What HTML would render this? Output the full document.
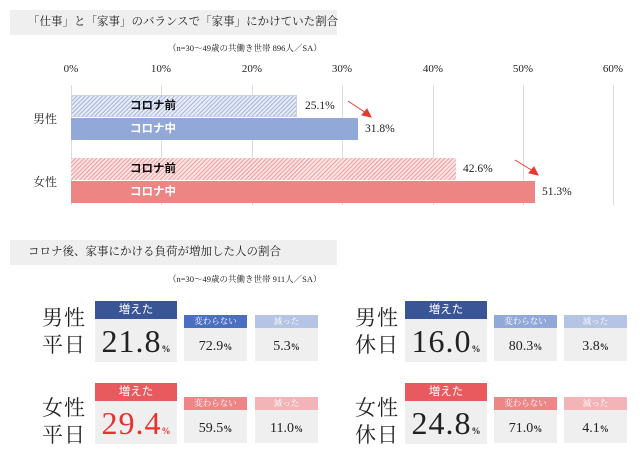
<!DOCTYPE html>
<html><head><meta charset="utf-8"><style>
body{margin:0;background:#fff;width:640px;height:460px;overflow:hidden;position:relative;font-family:"Liberation Serif","Noto Serif CJK SC",serif;color:#222}
.a{position:absolute}
.tb{position:absolute;left:10px;width:327px;height:25px;background:#efefef;font-size:11.5px;line-height:25px;padding-left:18px;box-sizing:border-box;white-space:nowrap;font-family:"Liberation Serif","Noto Serif CJK SC",serif}
.sub{position:absolute;font-size:8.5px;left:168px;white-space:nowrap}
.ax{position:absolute;top:63px;font-size:11px;width:40px;text-align:center}
.g{position:absolute;top:85px;height:120px;width:1px;background:#dcdcdc}
.bar{position:absolute;left:71px;height:22px}
.bl{position:absolute;left:130px;font-size:11.5px;font-weight:bold;font-family:"Liberation Sans","Noto Sans CJK JP",sans-serif;line-height:22px}
.v{position:absolute;font-size:11.5px;line-height:22px}
.cat{position:absolute;left:33px;font-size:12px}
.big{position:absolute;width:82px}
.big .h{height:18px;color:#fff;text-align:center;font-size:11.5px;line-height:18px;font-family:"Liberation Sans","Noto Sans CJK JP",sans-serif}
.big .b{height:43px;background:#efefef;text-align:center;font-size:32px;line-height:44px;font-family:"Liberation Serif","Noto Serif CJK SC",serif;letter-spacing:1px}
.sm{position:absolute;width:63px}
.sm .h{height:13px;color:#fff;text-align:center;font-size:8.5px;line-height:13px}
.sm .b{height:33px;background:#efefef;text-align:center;font-size:14px;line-height:38px}
small{font-size:9px;letter-spacing:0;font-weight:bold}
.lab{position:absolute;font-size:21px;line-height:27px;font-family:"Liberation Serif","Noto Serif CJK SC",serif;letter-spacing:1px}
</style></head><body>
<div class="tb" style="top:10px">「仕事」と「家事」のバランスで「家事」にかけていた割合</div>
<div class="sub" style="top:42px">（n=30～49歳の共働き世帯 896人／SA）</div>
<div class="ax" style="left:51px">0%</div><div class="ax" style="left:141px">10%</div><div class="ax" style="left:232px">20%</div><div class="ax" style="left:322px">30%</div><div class="ax" style="left:413px">40%</div><div class="ax" style="left:503px">50%</div><div class="ax" style="left:593px">60%</div>
<div class="g" style="left:71px"></div><div class="g" style="left:161px"></div><div class="g" style="left:252px"></div><div class="g" style="left:342px"></div><div class="g" style="left:433px"></div><div class="g" style="left:523px"></div><div class="g" style="left:613px"></div>
<div class="bar" style="top:95px;width:226px;background:repeating-linear-gradient(135deg,#a9b9dc 0 1px,#e6ebf6 1px 3px);border:1px solid #c8d2ea;box-sizing:border-box"></div>
<div class="bar" style="top:118px;width:287px;background:#91a8d8"></div>
<div class="bar" style="top:158px;width:385px;background:repeating-linear-gradient(135deg,#f0a0a2 0 1px,#fbe3e3 1px 3px)"></div>
<div class="bar" style="top:181px;width:464px;background:#ee8585"></div>
<div class="bl" style="top:95px;color:#111">コロナ前</div>
<div class="bl" style="top:118px;color:#fff">コロナ中</div>
<div class="bl" style="top:158px;color:#111">コロナ前</div>
<div class="bl" style="top:181px;color:#fff">コロナ中</div>
<div class="v" style="left:305px;top:95px">25.1%</div>
<div class="v" style="left:365px;top:118px">31.8%</div>
<div class="v" style="left:463px;top:158px">42.6%</div>
<div class="v" style="left:542px;top:181px">51.3%</div>
<svg class="a" style="left:0;top:0" width="640" height="220"><g stroke="#e8392f" stroke-width="1" fill="#e8392f"><line x1="348" y1="101" x2="366" y2="113"/><polygon points="371,117 362,115 367,109"/><line x1="515" y1="160" x2="533" y2="171"/><polygon points="538,175 529,173 534,167"/></g></svg>
<div class="cat" style="top:110px">男性</div>
<div class="cat" style="top:173px">女性</div>

<div class="tb" style="top:240px">コロナ後、家事にかける負荷が増加した人の割合</div>
<div class="sub" style="top:273px">（n=30～49歳の共働き世帯 911人／SA）</div>

<div class="lab" style="left:42px;top:305px">男性<br>平日</div>
<div class="lab" style="left:355px;top:305px">男性<br>休日</div>
<div class="lab" style="left:42px;top:395px">女性<br>平日</div>
<div class="lab" style="left:355px;top:395px">女性<br>休日</div>

<div class="big" style="left:95px;top:301px"><div class="h" style="background:#3a5596">増えた</div><div class="b">21.8<small>%</small></div></div>
<div class="sm" style="left:184px;top:315px"><div class="h" style="background:#4a6fc2">変わらない</div><div class="b">72.9<small>%</small></div></div>
<div class="sm" style="left:255px;top:315px"><div class="h" style="background:#b5c4e5">減った</div><div class="b">5.3<small>%</small></div></div>

<div class="big" style="left:405px;top:301px"><div class="h" style="background:#3a5596">増えた</div><div class="b">16.0<small>%</small></div></div>
<div class="sm" style="left:494px;top:315px"><div class="h" style="background:#91a8d8">変わらない</div><div class="b">80.3<small>%</small></div></div>
<div class="sm" style="left:564px;top:315px"><div class="h" style="background:#b5c4e5">減った</div><div class="b">3.8<small>%</small></div></div>

<div class="big" style="left:95px;top:383px"><div class="h" style="background:#e85a5e">増えた</div><div class="b" style="color:#e8322f">29.4<small>%</small></div></div>
<div class="sm" style="left:184px;top:397px"><div class="h" style="background:#ee8587">変わらない</div><div class="b">59.5<small>%</small></div></div>
<div class="sm" style="left:255px;top:397px"><div class="h" style="background:#f2b4b6">減った</div><div class="b">11.0<small>%</small></div></div>

<div class="big" style="left:405px;top:383px"><div class="h" style="background:#e85a5e">増えた</div><div class="b">24.8<small>%</small></div></div>
<div class="sm" style="left:494px;top:397px"><div class="h" style="background:#ee8587">変わらない</div><div class="b">71.0<small>%</small></div></div>
<div class="sm" style="left:564px;top:397px"><div class="h" style="background:#f2b4b6">減った</div><div class="b">4.1<small>%</small></div></div>
</body></html>
